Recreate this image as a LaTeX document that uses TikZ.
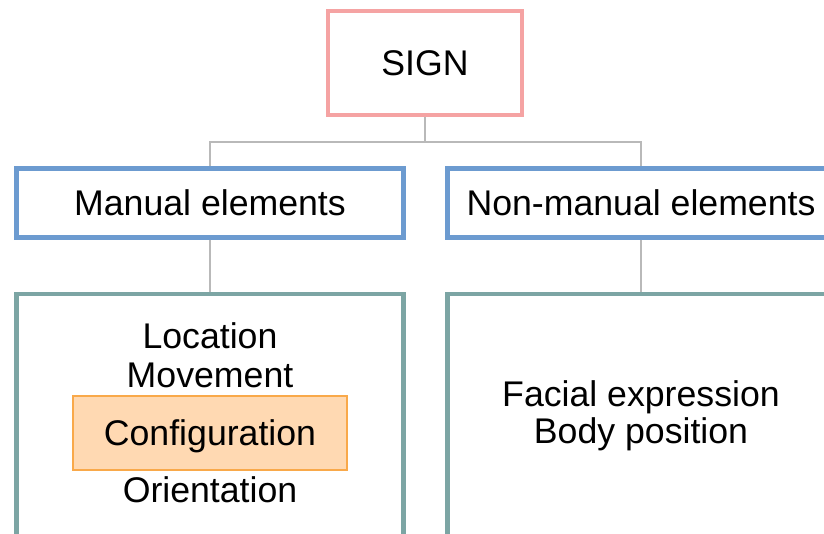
\documentclass[tikz,border=0pt]{standalone}
\usepackage{fontspec}
\setmainfont{Liberation Sans}
\usepackage{xcolor}
\usepackage{tikz}
\usetikzlibrary{positioning, calc}

\definecolor{signred}{HTML}{F5A3A3}
\definecolor{elemblue}{HTML}{6C9BD0}
\definecolor{bodyteal}{HTML}{7CA5A4}
\definecolor{confill}{HTML}{FFD9B2}
\definecolor{condraw}{HTML}{F9A94A}

\begin{document}
\begin{tikzpicture}[
  font=\fontsize{20.3}{24}\selectfont,
  signbox/.style={draw=signred, line width=2.3pt, fill=white,
    minimum width=3.88cm, minimum height=2.08cm, align=center},
  elembox/.style={draw=elemblue, line width=2.6pt, fill=white,
    minimum width=7.74cm, minimum height=1.37cm, align=center},
  bodybox/.style={draw=bodyteal, line width=2.6pt, fill=white,
    minimum width=7.74cm, minimum height=4.86cm},
  confbox/.style={draw=condraw, line width=0.6pt, fill=confill,
    minimum width=5.48cm, minimum height=1.48cm, text depth=0pt},
  item/.style={anchor=base, inner sep=0pt},
  link/.style={draw=gray!55, line width=0.8pt},
]
\useasboundingbox (0, 0) rectangle (16.48, 10.68);

% ===== Tree links =====
\coordinate (bus) at (8.5, 7.84);

% ===== Top: sign =====
\node[signbox] (sign) at (8.5, 9.42) {SIGN};

% ===== Middle row =====
\node[elembox] (manual) at (4.2, 6.62) {Manual elements};
\node[elembox] (nonmanual) at (12.82, 6.62) {Non-manual elements};

% ===== Bottom row =====
\node[bodybox] (manualbody) at (4.2, 2.37) {};
\node[bodybox] (nonmanualbody) at (12.82, 2.37) {};

% Manual parameters
\node[item] (location) at (4.2, 3.71) {Location};
\node[item] (movement) at (4.2, 2.93) {Movement};
\node[confbox] (config) at (4.2, 2.02) {Configuration};
\node[item] (orient) at (4.2, 0.626) {Orientation};

% Non-manual parameters
\node[item] (facial) at (12.82, 2.546) {Facial expression};
\node[item] (bodypos) at (12.82, 1.814) {Body position};

% Links
\draw[link] (sign.south) -- (bus);
\draw[link] (bus) -| (manual.north);
\draw[link] (bus) -| (nonmanual.north);
\draw[link] (manual.south) -- (manualbody.north);
\draw[link] (nonmanual.south) -- (nonmanualbody.north);

\end{tikzpicture}
\end{document}
